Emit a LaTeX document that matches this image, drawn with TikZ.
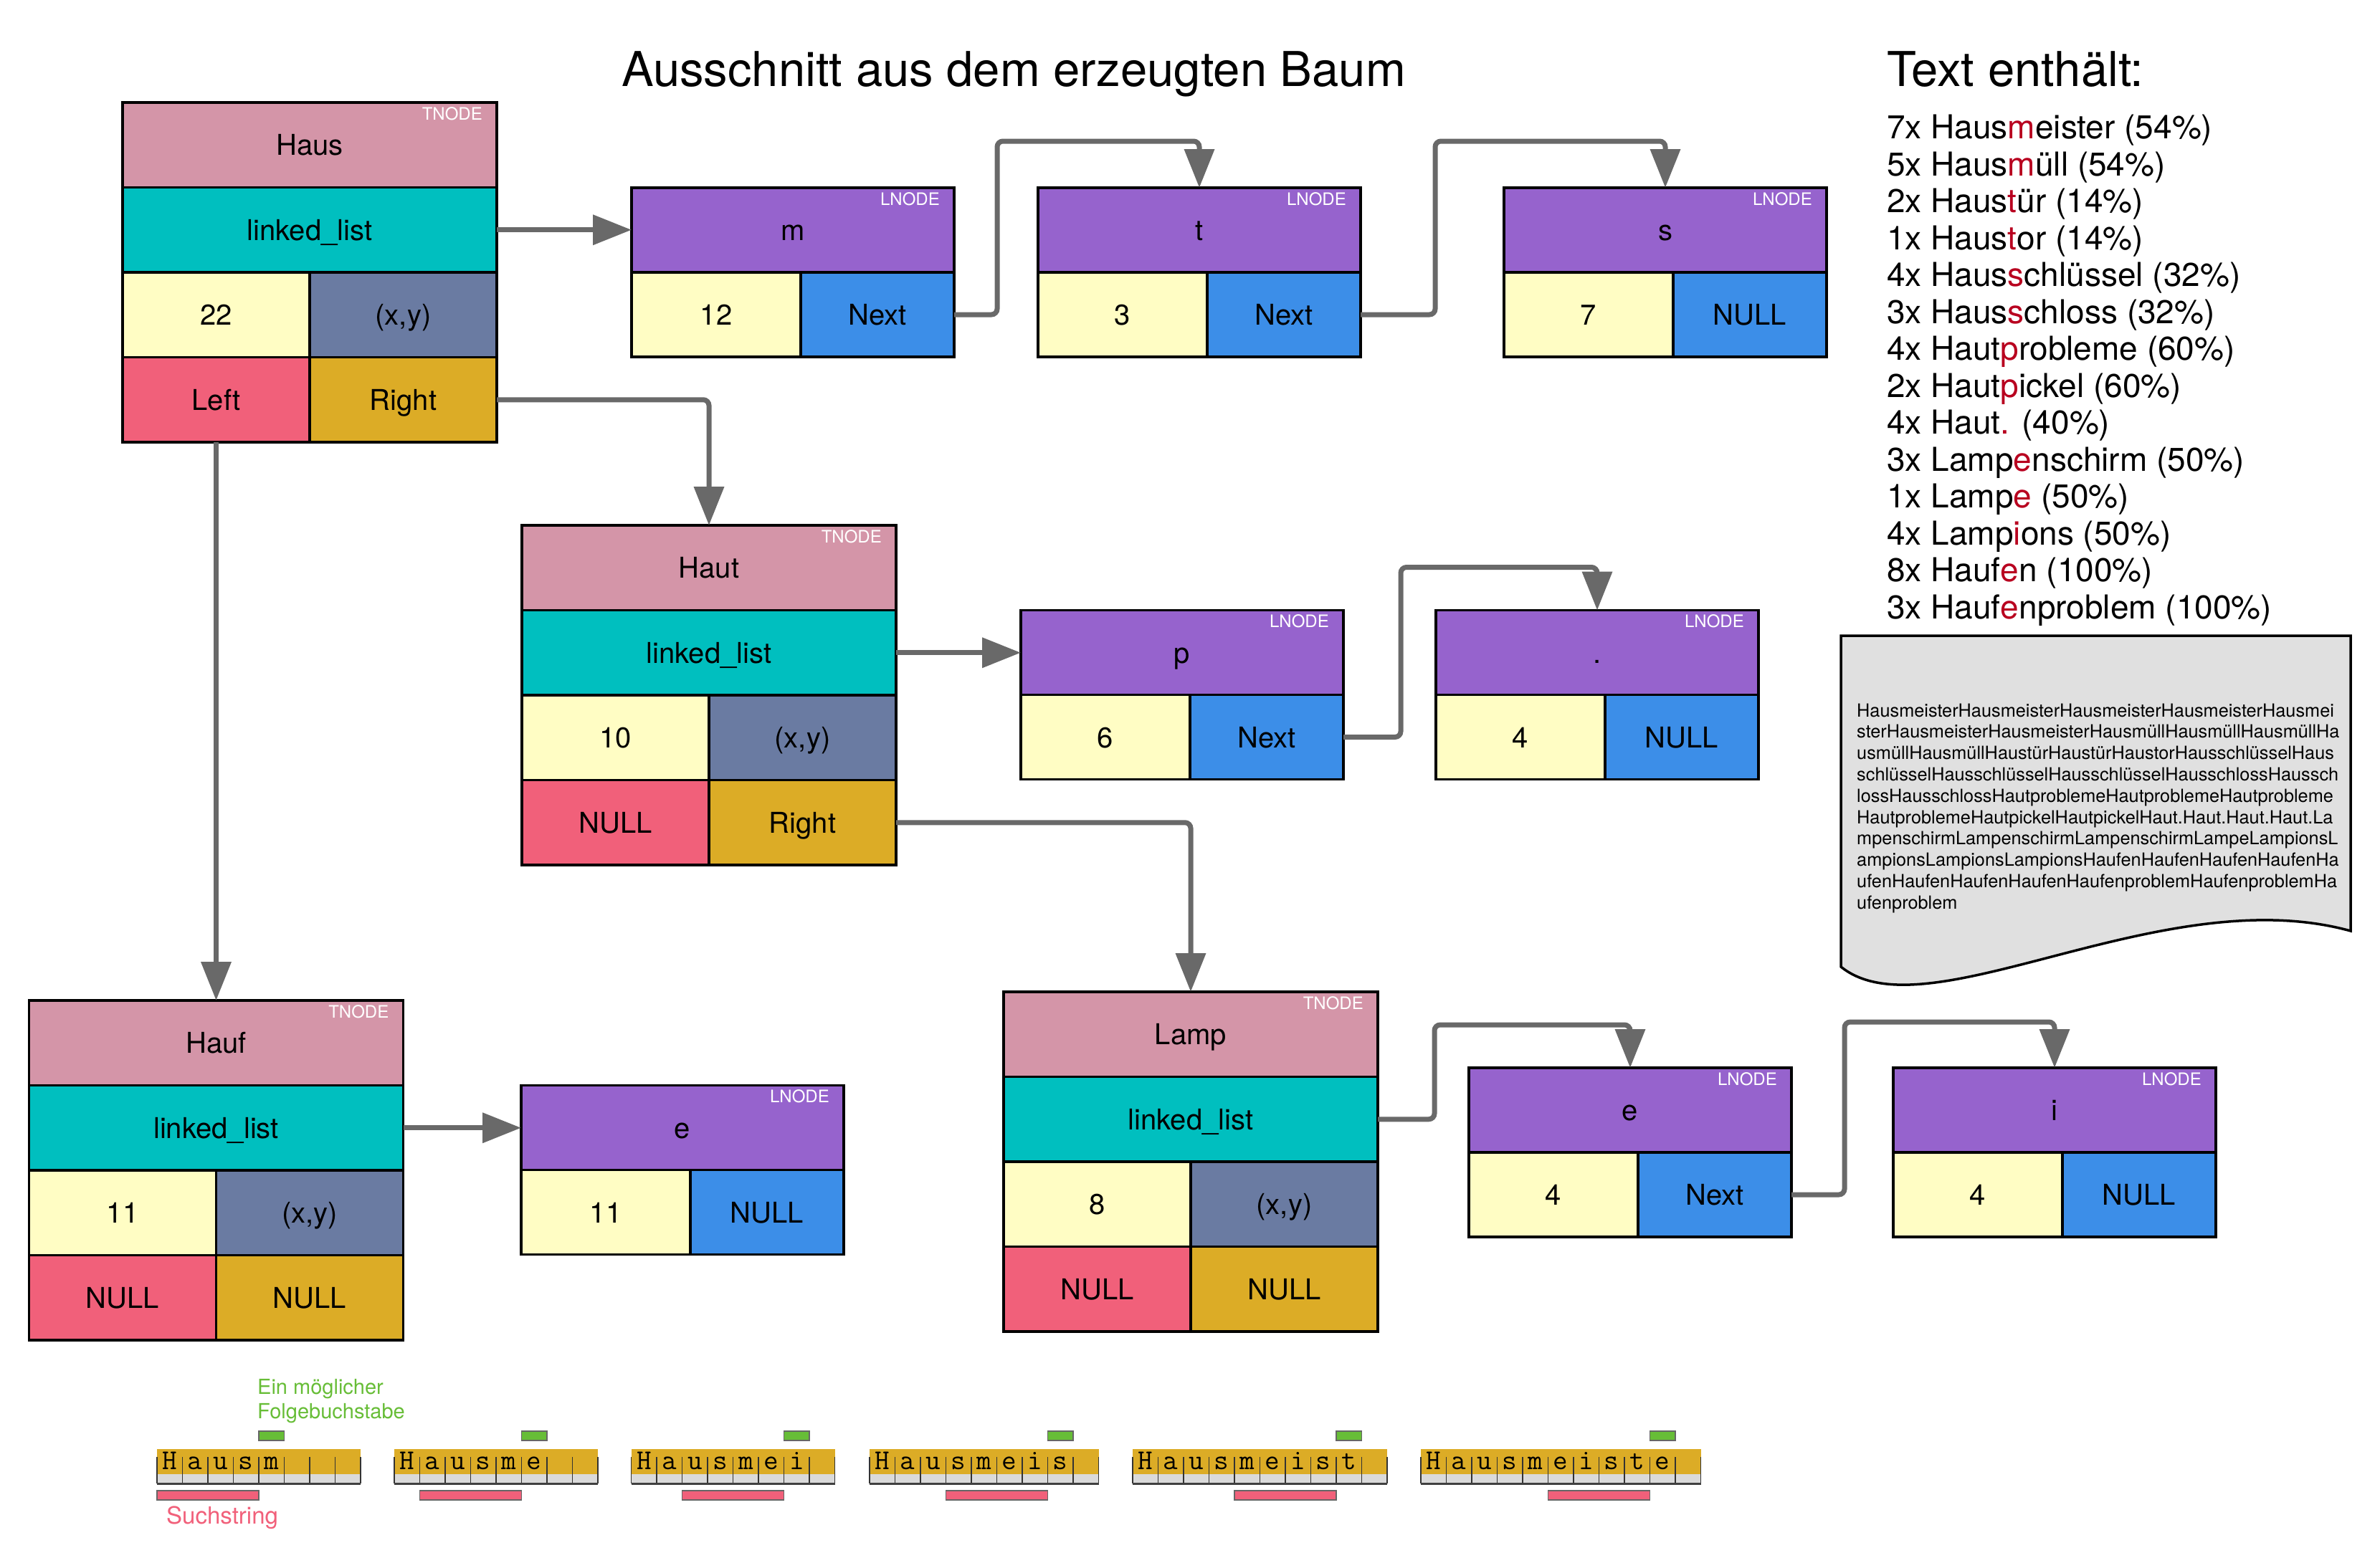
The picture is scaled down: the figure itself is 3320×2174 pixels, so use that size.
\documentclass[tikz,border=0pt]{standalone}
\usepackage{fontspec}
\setmainfont{TeX Gyre Heros}
\usepackage{tikz,pgffor}
\usetikzlibrary{arrows.meta}
\usetikzlibrary{calc}
\usetikzlibrary{positioning}
\definecolor{tkey}{HTML}{D495A8}
\definecolor{tlist}{HTML}{00BFBF}
\definecolor{tcount}{HTML}{FFFDC4}
\definecolor{tpos}{HTML}{6A7BA2}
\definecolor{tleft}{HTML}{F1607A}
\definecolor{tright}{HTML}{DCAC26}
\definecolor{lchar}{HTML}{9663CD}
\definecolor{lnext}{HTML}{3C8EE8}
\definecolor{linkgray}{HTML}{696969}
\definecolor{hitred}{HTML}{B8001F}
\definecolor{docgray}{HTML}{E0E0E0}
\definecolor{stripgray}{HTML}{DADADA}
\definecolor{nextgreen}{HTML}{67BD37}
\tikzstyle{fieldbox} = [
    rectangle,
    draw=black,
    line width=3.5pt,
    minimum height=118.5pt,
    inner sep=0pt,
    outer sep=0pt,
    text height=29pt,
    text depth=0pt,
    text centered,
    font=\fontsize{40}{48}\selectfont
]
\tikzstyle{typetag}  = [anchor=north east, inner sep=0pt, text=white, font=\fontsize{24}{28}\selectfont]
\tikzstyle{pointer}  = [
    draw=linkgray,
    line width=7pt,
    rounded corners=8pt,
    -{Triangle[length=54pt,width=41pt]}
]
\tikzstyle{countline} = [anchor=base west, inner sep=0pt, font=\fontsize{46}{52}\selectfont]
\tikzstyle{docline}   = [anchor=base west, inner sep=0pt, font=\fontsize{25.3}{30}\selectfont]
\tikzstyle{letter}    = [anchor=base, inner sep=0pt, font=\ttfamily\fontsize{40}{44}\selectfont]
\newcommand{\hitchar}[1]{\textcolor{hitred}{#1}}
% name, x, y, key, count, left, right
\newcommand{\treenode}[7]{%
  \node[fieldbox, fill=tkey, minimum width=522pt, anchor=north west] (#1) at (#2,#3) {#4};
  \node[typetag] (#1-tag) at ([xshift=-20pt,yshift=-6pt]#1.north east) {TNODE};
  \node[fieldbox, fill=tlist, minimum width=522pt, below=0pt of #1] (#1-list) {linked\_list};
  \node[fieldbox, fill=tcount, minimum width=261pt, anchor=north west] (#1-count) at (#1-list.south west) {#5};
  \node[fieldbox, fill=tpos, minimum width=261pt, right=0pt of #1-count] (#1-pos) {(x,y)};
  \node[fieldbox, fill=tleft, minimum width=261pt, below=0pt of #1-count] (#1-left) {#6};
  \node[fieldbox, fill=tright, minimum width=261pt, right=0pt of #1-left] (#1-right) {#7};
}
% name, x, y, char, count, next
\newcommand{\listnode}[6]{%
  \node[fieldbox, fill=lchar, minimum width=450pt, minimum height=118pt, anchor=north west] (#1) at (#2,#3) {#4};
  \node[typetag] (#1-tag) at ([xshift=-20pt,yshift=-6pt]#1.north east) {LNODE};
  \node[fieldbox, fill=tcount, minimum width=236pt, minimum height=118pt, anchor=north west] (#1-count) at (#1.south west) {#5};
  \node[fieldbox, fill=lnext, minimum width=214pt, minimum height=118pt, right=0pt of #1-count] (#1-next) {#6};
}

\begin{document}
\begin{tikzpicture}[x=1pt, y=1pt]
\useasboundingbox (0,0) rectangle (3320,-2174);

\node[anchor=base, inner sep=0pt, font=\fontsize{67}{80}\selectfont] (title) at (1414,-120) {Ausschnitt aus dem erzeugten Baum};
\node[anchor=base west, inner sep=0pt, font=\fontsize{67}{80}\selectfont] (texthead) at (2632,-120) {Text enthält:};

\foreach \entry [count=\k from 0] in {
  7x Haus\hitchar{m}eister (54\%),
  5x Haus\hitchar{m}üll (54\%),
  2x Haus\hitchar{t}ür (14\%),
  1x Haus\hitchar{t}or (14\%),
  4x Haus\hitchar{s}chlüssel (32\%),
  3x Haus\hitchar{s}chloss (32\%),
  4x Haut\hitchar{p}robleme (60\%),
  2x Haut\hitchar{p}ickel (60\%),
  4x Haut\hitchar{.} (40\%),
  3x Lamp\hitchar{e}nschirm (50\%),
  1x Lamp\hitchar{e} (50\%),
  4x Lamp\hitchar{i}ons (50\%),
  8x Hauf\hitchar{e}n (100\%),
  3x Hauf\hitchar{e}nproblem (100\%)}
  \node[countline] (count\k) at (2632,-193.6-51.5*\k) {\entry};

% the scanned text
\draw[fill=docgray, draw=black, line width=3.5pt] (2568,-887) -- (3279,-887) -- (3279,-1299)
  .. controls (3015,-1226) and (2688,-1446) .. (2568,-1349) -- cycle;
\foreach \row [count=\k from 0] in {
  HausmeisterHausmeisterHausmeisterHausmeisterHausmei,
  sterHausmeisterHausmeisterHausmüllHausmüllHausmüllHa,
  usmüllHausmüllHaustürHaustürHaustorHausschlüsselHaus,
  schlüsselHausschlüsselHausschlüsselHausschlossHaussch,
  lossHausschlossHautproblemeHautproblemeHautprobleme,
  HautproblemeHautpickelHautpickelHaut.Haut.Haut.Haut.La,
  mpenschirmLampenschirmLampenschirmLampeLampionsL,
  ampionsLampionsLampionsHaufenHaufenHaufenHaufenHa,
  ufenHaufenHaufenHaufenHaufenproblemHaufenproblemHa,
  ufenproblem}
  \node[docline] (doc\k) at (2590,-1000-29.8*\k) {\row};

\treenode{haus}{171}{-143}{Haus}{22}{Left}{Right}
\treenode{haut}{728}{-733}{Haut}{10}{NULL}{Right}
\treenode{hauf}{40.5}{-1396}{Hauf}{11}{NULL}{NULL}
\treenode{lamp}{1400}{-1384}{Lamp}{8}{NULL}{NULL}

\listnode{m}{881}{-262}{m}{12}{Next}
\listnode{t}{1448}{-262}{t}{3}{Next}
\listnode{s}{2098}{-262}{s}{7}{NULL}
\listnode{p}{1424}{-851.5}{p}{6}{Next}
\listnode{dot}{2003}{-851.5}{.}{4}{NULL}
\listnode{ehauf}{727}{-1514.5}{e}{11}{NULL}
\listnode{elamp}{2049}{-1490}{e}{4}{Next}
\listnode{i}{2641}{-1490}{i}{4}{NULL}

\draw[pointer] (haus-list.east) -- (haus-list.east -| m.west);
\draw[pointer] (m-next.east) -- ++(60,0) |- ([yshift=65pt]t.north) -- (t.north);
\draw[pointer] (t-next.east) -- ++(104,0) |- ([yshift=65pt]s.north) -- (s.north);
\draw[pointer] (haus-right.east) -| (haut.north);
\draw[pointer] (haus-left.south) -- (hauf.north);
\draw[pointer] (haut-list.east) -- (haut-list.east -| p.west);
\draw[pointer] (p-next.east) -- ++(80,0) |- ([yshift=60pt]dot.north) -- (dot.north);
\draw[pointer] (haut-right.east) -| (lamp.north);
\draw[pointer] (hauf-list.east) -- (hauf-list.east -| ehauf.west);
\draw[pointer] (lamp-list.east) -- ++(79,0) |- ([yshift=60pt]elamp.north) -- (elamp.north);
\draw[pointer] (elamp-next.east) -- ++(74,0) |- ([yshift=64pt]i.north) -- (i.north);

% sliding search window
\foreach \ax/\n/\word/\g in {219/8/{H,a,u,s,m}/4, 550/8/{H,a,u,s,m,e}/5, 880.6/8/{H,a,u,s,m,e,i}/6,
    1213/9/{H,a,u,s,m,e,i,s}/7, 1580/10/{H,a,u,s,m,e,i,s,t}/8, 1982/11/{H,a,u,s,m,e,i,s,t,e}/9} {
  \fill[tright] (\ax,-2022) rectangle (\ax+\n*35.5,-2057);
  \fill[stripgray] (\ax,-2057) rectangle (\ax+\n*35.5,-2070);
  \foreach \j in {0,...,\n}
    \draw[black!80, line width=1.5pt] (\ax+\j*35.5,-2033) -- (\ax+\j*35.5,-2070);
  \draw[black!75, line width=3pt] (\ax,-2070) -- (\ax+\n*35.5,-2070);
  \foreach \c [count=\i from 0] in \word
    \node[letter] (c\i) at (\ax+\i*35.5+17.75,-2050) {\c};
  \filldraw[fill=nextgreen, draw=black!60, line width=1.5pt] (\ax+\g*35.5,-1997) rectangle (\ax+\g*35.5+35.5,-2010);
  \filldraw[fill=tleft, draw=black!60, line width=1.5pt] (\ax+\g*35.5-142,-2080) rectangle (\ax+\g*35.5,-2093);
}
\node[anchor=base west, inner sep=0pt, text=nextgreen, font=\fontsize{29}{34}\selectfont] (hint1) at (359,-1945) {Ein möglicher};
\node[anchor=base west, inner sep=0pt, text=nextgreen, font=\fontsize{29}{34}\selectfont] (hint2) at (359,-1979) {Folgebuchstabe};
\node[anchor=base west, inner sep=0pt, text=tleft, font=\fontsize{33}{40}\selectfont] (search) at (232,-2126) {Suchstring};

\end{tikzpicture}
\end{document}
